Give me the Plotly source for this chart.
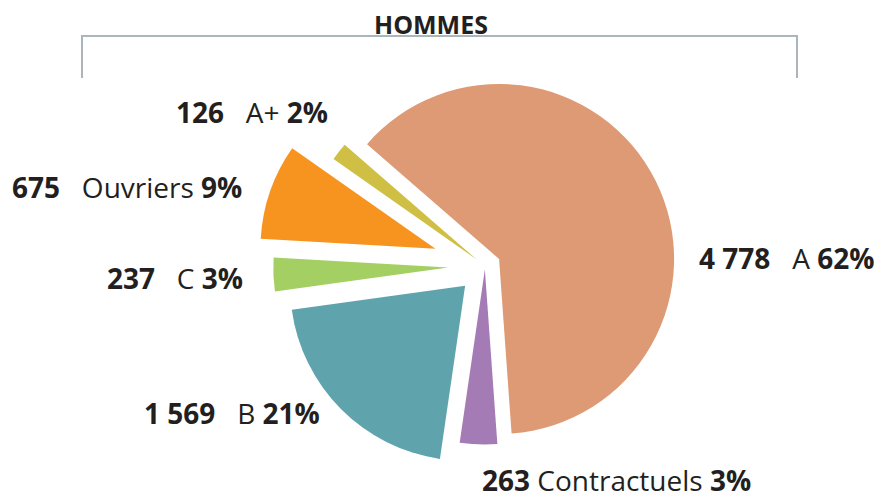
import plotly.graph_objects as go

# data
categories = ["A", "Contractuels", "B", "C", "Ouvriers", "A+"]
effectifs = [4778, 263, 1569, 237, 675, 126]
colors = ["#DE9A74", "#A57BB5", "#5FA3AD", "#A4CF62", "#F7941F", "#CFBF44"]
pulls = [0.09, 0.02, 0.16, 0.21, 0.30, 0.06]

W, H = 888, 499
FONT = "Open Sans"

fig = go.Figure()
fig.add_trace(go.Pie(
    labels=categories, values=effectifs, sort=False,
    direction="clockwise", rotation=-49,
    pull=pulls, marker=dict(colors=colors, line=dict(width=0)),
    textinfo="none", hoverinfo="label+value+percent",
    domain=dict(x=[257.5 / W, 712.5 / W], y=[1 - 493.5 / H, 1 - 38.5 / H]),
    showlegend=False,
))

# label placement (pixels): x, y, anchor
label_pos = {
    "A": (697, 258, "left"),
    "Contractuels": (616, 480, "center"),
    "B": (322, 413, "right"),
    "C": (245, 278, "right"),
    "Ouvriers": (244, 187, "right"),
    "A+": (330, 112, "right"),
}

total = sum(effectifs)
nb = "\u00a0"
for cat, val in zip(categories, effectifs):
    pct = round(val / total * 100)
    num = f"{val:,}".replace(",", nb)
    gap = " " if cat == "Contractuels" else nb * 3
    txt = f"<b>{num}</b>{gap}{cat} <b>{pct}%</b>"
    x, y, anchor = label_pos[cat]
    fig.add_annotation(
        x=x / W, y=1 - y / H, xref="paper", yref="paper",
        text=txt, showarrow=False, xanchor=anchor, yanchor="middle",
        font=dict(family=FONT, size=28, color="#231F20"),
    )

# title with bracket line
fig.add_shape(type="path", xref="paper", yref="paper",
              path=f"M {82 / W},{1 - 78 / H} L {82 / W},{1 - 36 / H} L {797 / W},{1 - 36 / H} L {797 / W},{1 - 78 / H}",
              line=dict(color="#AAB6BC", width=2))
fig.add_annotation(
    x=431 / W, y=1 - 43 / H, xref="paper", yref="paper",
    text="<b>HOMMES</b>", showarrow=False, xanchor="center", yanchor="bottom",
    font=dict(family=FONT, size=25, color="#231F20"),
)

fig.update_layout(
    width=W, height=H,
    margin=dict(l=0, r=0, t=0, b=0),
    paper_bgcolor="white", plot_bgcolor="white",
)

# no page margin so the 888x499 figure sits at the window's corner
fig.write_html("out.html", config={"displayModeBar": False},
               post_script="document.body.style.margin='0';")
